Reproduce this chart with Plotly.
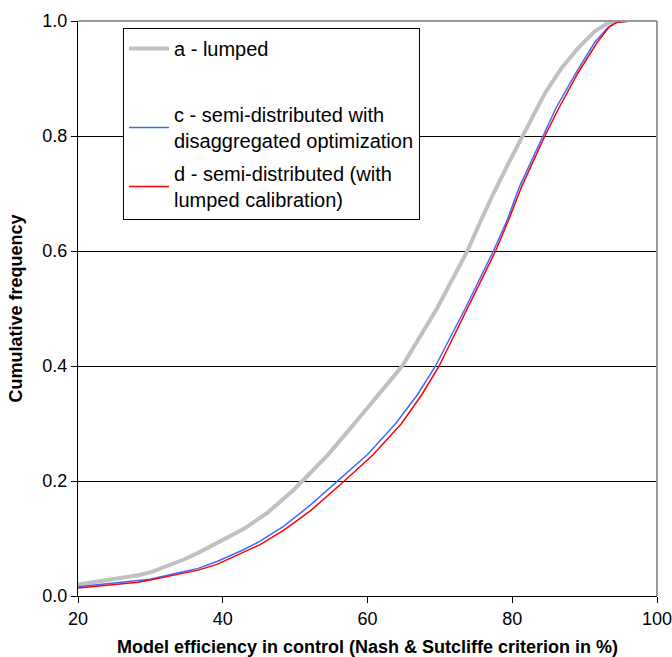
import plotly.graph_objects as go

# Model efficiency (x, %) and cumulative frequency (y)
x_a = [20, 24, 28.3, 30, 34.55, 36.6, 39.2, 42.8, 46.1, 49.75, 51.0, 54.5, 58.2, 61.5, 64.8, 69.6, 73.8,
       75.7, 77.4, 79.7, 81.4, 82.5, 84.5, 86.8, 89.1, 91.4, 93.3, 94.5]
y_a = [0.020, 0.027, 0.036, 0.041, 0.063, 0.075, 0.092, 0.116, 0.144, 0.184, 0.200, 0.245, 0.300, 0.350, 0.400, 0.500, 0.600,
       0.654, 0.700, 0.758, 0.800, 0.828, 0.874, 0.918, 0.953, 0.982, 0.997, 1.0]

x_c = [20, 24, 28.3, 29.95, 34.55, 36.6, 39.2, 42.8, 45.1, 48.4, 52.1, 55.8, 60.0, 63.9, 66.9, 69.4, 73.5,
       77.4, 79.3, 81.0, 84.2, 86.1, 88.9, 91.4, 93.3, 94.5, 96.5]
y_c = [0.016, 0.021, 0.027, 0.029, 0.042, 0.048, 0.060, 0.080, 0.095, 0.121, 0.158, 0.200, 0.246, 0.300, 0.350, 0.400, 0.500,
       0.600, 0.654, 0.712, 0.800, 0.850, 0.912, 0.963, 0.990, 0.998, 1.0]

x_d = [20, 24, 28.3, 29.95, 34.55, 36.6, 39.2, 42.8, 45.1, 48.4, 52.1, 56.8, 60.8, 64.7, 67.5, 69.9, 73.8,
       77.7, 79.5, 81.3, 84.5, 86.5, 89.1, 91.7, 93.4, 94.5, 96.5]
y_d = [0.014, 0.019, 0.024, 0.028, 0.040, 0.045, 0.055, 0.075, 0.089, 0.114, 0.148, 0.200, 0.246, 0.300, 0.350, 0.400, 0.500,
       0.600, 0.654, 0.712, 0.800, 0.850, 0.910, 0.962, 0.990, 0.998, 1.0]

names = ["a - lumped",
         "c - semi-distributed with<br>disaggregated optimization",
         "d - semi-distributed (with<br>lumped calibration)"]

x_ticks = [20, 40, 60, 80, 100]
y_ticks = [0.0, 0.2, 0.4, 0.6, 0.8, 1.0]

fig = go.Figure()
fig.add_trace(go.Scatter(x=x_a, y=y_a, mode="lines", name=names[0],
                         line=dict(color="#c0c0c0", width=4), legendgroup="a", legendrank=1))
# empty spacer entry in the legend (gap between a and c)
fig.add_trace(go.Scatter(x=[None], y=[None], mode="lines", name=" ", hoverinfo="skip",
                         line=dict(color="rgba(0,0,0,0)", width=0), legendgroup="b", legendrank=2))
fig.add_trace(go.Scatter(x=x_c, y=y_c, mode="lines", name=names[1],
                         line=dict(color="#3c6cff", width=1.5), legendgroup="c", legendrank=3))
fig.add_trace(go.Scatter(x=x_d, y=y_d, mode="lines", name=names[2],
                         line=dict(color="#ff0000", width=1.5), legendgroup="d", legendrank=4))

fig.update_layout(
    width=672, height=657,
    margin=dict(l=78, r=15, t=21, b=61),
    plot_bgcolor="white", paper_bgcolor="white",
    font=dict(family="Liberation Sans, Arial", size=18, color="black"),
    showlegend=True,
    legend=dict(x=(123 - 78) / 579, y=(596 - 28) / 575, xanchor="left", yanchor="top",
                bgcolor="white", bordercolor="black", borderwidth=1,
                font=dict(size=20), tracegroupgap=4, itemwidth=40,
                traceorder="grouped"),
    xaxis=dict(range=[20, 100], tickvals=x_ticks, ticktext=[str(v) for v in x_ticks],
               showgrid=False, zeroline=False, showline=True, linecolor="black", linewidth=1,
               ticks="outside", ticklen=6, tickcolor="black", automargin=False,
               ticklabeloverflow="allow",
               title=dict(text="<b>Model efficiency in control (Nash & Sutcliffe criterion in %)</b>",
                          font=dict(size=18))),
    yaxis=dict(range=[0, 1], tickvals=y_ticks, ticktext=[f"{v:.1f}" for v in y_ticks],
               showgrid=True, gridcolor="black", gridwidth=1, zeroline=False,
               showline=True, linecolor="black", linewidth=1,
               ticks="outside", ticklen=6, tickcolor="black", automargin=False,
               title=dict(text="<b>Cumulative frequency</b>", font=dict(size=18))),
)
fig.add_shape(type="line", xref="paper", yref="paper", x0=0, x1=1, y0=1, y1=1,
              line=dict(color="#999999", width=2), layer="above")
fig.add_shape(type="line", xref="paper", yref="paper", x0=1, x1=1, y0=0, y1=1,
              line=dict(color="#999999", width=2), layer="above")

fig.write_html("out.html", config={"displayModeBar": False},
               post_script="document.body.style.margin='0';")
